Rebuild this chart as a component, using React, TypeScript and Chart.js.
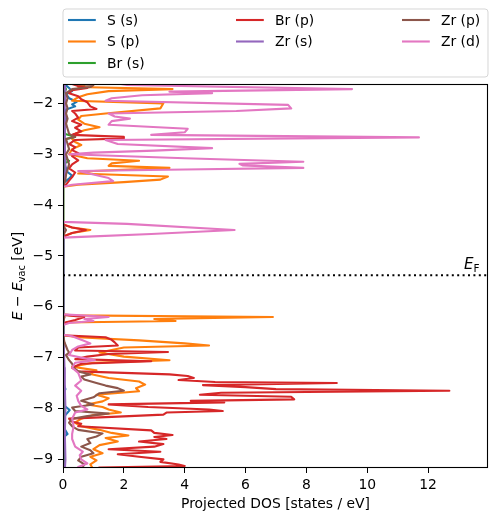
import { useEffect, useRef } from 'react';
import { Chart, registerables } from 'chart.js';

Chart.register(...registerables);

const FONT = '"DejaVu Sans", "Liberation Sans", sans-serif';
const FS = 13.9;

const seriesLabels = ['S (s)', 'S (p)', 'Br (s)', 'Br (p)', 'Zr (s)', 'Zr (p)', 'Zr (d)'];
const seriesColors = ['#1f77b4', '#ff7f0e', '#2ca02c', '#d62728', '#9467bd', '#8c564b', '#e377c2'];

const xMin = 0;
const xMax = 13.97;
const yMin = -9.17;
const yMax = -1.62;
const fermiLevel = -5.38;

// [energy (eV), projected DOS (states/eV)]
const sS: [number, number][] = [
  [-1.55, 0.05], [-1.62, 0.05], [-1.7, 0.2], [-1.76, 0.3], [-1.82, 0.1], [-1.9, 0.2], [-1.97, 0.45], [-2.02, 0.3],
  [-2.06, 0.4], [-2.12, 0.1], [-2.2, 0.05], [-2.3, 0.1], [-2.5, 0.05], [-2.7, 0.05], [-3.0, 0.05], [-3.2, 0.05],
  [-3.35, 0.15], [-3.42, 0.3], [-3.48, 0.2], [-3.55, 0.05], [-3.64, 0], [-4.36, 0], [-4.49, 0.05], [-4.62, 0],
  [-6.15, 0], [-6.56, 0.02], [-7.0, 0.02], [-7.5, 0.03], [-7.62, 0.08], [-7.7, 0.02], [-7.95, 0.05], [-8.03, 0.22],
  [-8.08, 0.15], [-8.15, 0.05], [-8.4, 0.05], [-8.5, 0.15], [-8.55, 0.05], [-9.2, 0.02],
];

const sP: [number, number][] = [
  [-1.55, 0.4], [-1.62, 0.5], [-1.65, 0.7], [-1.68, 0.5], [-1.72, 3.6], [-1.76, 1.5], [-1.82, 0.8], [-1.88, 0.5],
  [-1.95, 0.3], [-2.0, 3.3], [-2.1, 3.2], [-2.2, 1.4], [-2.25, 0.6], [-2.32, 0.5], [-2.4, 0.7], [-2.47, 1.2],
  [-2.53, 0.7], [-2.6, 0.4], [-2.7, 0.3], [-2.76, 0.4], [-2.82, 0.6], [-2.9, 0.3], [-3.0, 0.2], [-3.08, 0.8],
  [-3.13, 2.5], [-3.18, 1.6], [-3.23, 1.5], [-3.27, 3.5], [-3.33, 1.0], [-3.38, 0.5], [-3.44, 3.45], [-3.5, 3.2],
  [-3.55, 2.0], [-3.6, 0.5], [-3.64, 0],
  [-4.38, 0], [-4.44, 0.3], [-4.49, 0.9], [-4.55, 0.3], [-4.62, 0],
  [-6.15, 0], [-6.17, 0.3], [-6.2, 6.9], [-6.24, 3.0], [-6.28, 3.7], [-6.31, 0.1], [-6.35, 0], [-6.56, 0],
  [-6.6, 0.5], [-6.66, 2.5], [-6.72, 4.0], [-6.76, 4.8], [-6.8, 2.0], [-6.9, 1.2], [-6.98, 2.0], [-7.05, 3.5],
  [-7.1, 1.0], [-7.18, 0.3], [-7.25, 1.1], [-7.32, 0.9], [-7.4, 1.5], [-7.47, 2.5], [-7.53, 2.7], [-7.6, 2.4],
  [-7.66, 2.5], [-7.73, 1.1], [-7.8, 1.5], [-7.86, 1.3], [-7.92, 0.8], [-7.97, 1.3], [-8.02, 1.5], [-8.08, 1.9],
  [-8.13, 1.0], [-8.2, 0.6], [-8.28, 0.4], [-8.35, 0.6], [-8.42, 1.2], [-8.48, 1.6], [-8.53, 2.15], [-8.58, 1.4],
  [-8.65, 1.8], [-8.72, 1.2], [-8.8, 1.0], [-8.88, 1.3], [-8.95, 0.9], [-9.02, 1.1], [-9.1, 0.9], [-9.2, 1.0],
];

const brS: [number, number][] = [
  [-1.55, 0], [-1.62, 0.02], [-1.72, 0.1], [-1.8, 0.02], [-2.6, 0.05], [-2.66, 0.4], [-2.7, 0.1], [-2.8, 0.02],
  [-3.08, 0.05], [-3.13, 0.2], [-3.18, 0.05], [-3.64, 0], [-4.4, 0], [-4.49, 0.03], [-4.6, 0], [-6.15, 0],
  [-6.6, 0.02], [-7.5, 0.02], [-8.1, 0.04], [-9.2, 0.02],
];

const brP: [number, number][] = [
  [-1.55, 0.3], [-1.62, 0.3], [-1.66, 0.5], [-1.7, 0.8], [-1.74, 0.3], [-1.8, 0.2], [-1.86, 0.5], [-1.92, 0.6],
  [-1.98, 0.8], [-2.06, 0.9], [-2.11, 1.1], [-2.15, 0.3], [-2.2, 0.4], [-2.28, 0.5], [-2.35, 0.3], [-2.42, 0.6],
  [-2.48, 0.4], [-2.55, 0.6], [-2.62, 0.3], [-2.66, 2.0], [-2.69, 2.0], [-2.72, 0.4], [-2.8, 0.2], [-2.86, 0.4],
  [-2.92, 0.3], [-2.98, 0.5], [-3.04, 0.3], [-3.12, 0.5], [-3.2, 0.3], [-3.28, 0.2], [-3.36, 0.4], [-3.45, 0.3],
  [-3.52, 0.2], [-3.6, 0.1], [-3.64, 0],
  [-4.38, 0], [-4.44, 0.3], [-4.49, 0.75], [-4.55, 0.3], [-4.62, 0],
  [-6.16, 0], [-6.2, 0.7], [-6.26, 0.4], [-6.32, 0], [-6.56, 0], [-6.6, 1.4], [-6.65, 1.6], [-6.7, 1.7],
  [-6.76, 1.8], [-6.8, 0.5], [-6.86, 0.4], [-6.89, 3.45], [-6.93, 1.5], [-6.98, 0.8], [-7.03, 0.4], [-7.07, 2.9],
  [-7.12, 0.6], [-7.2, 0.3], [-7.27, 0.5], [-7.33, 3.5], [-7.36, 4.1], [-7.4, 4.3], [-7.44, 3.8], [-7.48, 5.0],
  [-7.5, 9.0], [-7.54, 4.6], [-7.58, 6.0], [-7.62, 7.0], [-7.65, 12.7], [-7.69, 5.2], [-7.73, 4.5], [-7.77, 7.5],
  [-7.82, 7.6], [-7.85, 4.2], [-7.88, 5.3], [-7.92, 1.5], [-7.97, 2.8], [-8.02, 4.8], [-8.05, 5.25], [-8.08, 3.4],
  [-8.12, 3.3], [-8.16, 1.8], [-8.2, 0.2], [-8.26, 0.3], [-8.3, 0.6], [-8.35, 0.5], [-8.43, 2.9], [-8.48, 3.0],
  [-8.52, 3.6], [-8.56, 3.0], [-8.6, 3.4], [-8.65, 2.5], [-8.7, 3.3], [-8.75, 3.0], [-8.8, 1.5], [-8.85, 3.2],
  [-8.9, 1.8], [-8.95, 2.5], [-9.0, 3.3], [-9.05, 3.2], [-9.1, 3.8], [-9.13, 4.0], [-9.16, 1.2], [-9.2, 1.0],
];

const zrS: [number, number][] = [
  [-1.55, 0.05], [-1.8, 0.08], [-2.2, 0.05], [-2.8, 0.06], [-3.3, 0.08], [-3.64, 0], [-4.4, 0], [-4.49, 0.05],
  [-4.6, 0], [-6.15, 0], [-6.6, 0.03], [-7.2, 0.05], [-7.6, 0.06], [-8.0, 0.08], [-8.5, 0.06], [-9.0, 0.08],
  [-9.2, 0.06],
];

const zrP: [number, number][] = [
  [-1.55, 0.3], [-1.62, 0.3], [-1.64, 1.0], [-1.68, 0.9], [-1.72, 0.3], [-1.8, 0.1], [-1.9, 0.15], [-2.0, 0.1],
  [-2.1, 0.15], [-2.2, 0.1], [-2.3, 0.15], [-2.4, 0.1], [-2.5, 0.15], [-2.6, 0.2], [-2.66, 0.4], [-2.7, 0.1],
  [-2.8, 0.15], [-2.9, 0.2], [-3.0, 0.1], [-3.1, 0.15], [-3.2, 0.2], [-3.3, 0.15], [-3.4, 0.1], [-3.5, 0.08],
  [-3.64, 0],
  [-4.4, 0], [-4.49, 0.1], [-4.6, 0],
  [-6.15, 0], [-6.2, 0.05], [-6.3, 0], [-6.56, 0], [-6.7, 0.05], [-6.85, 0.15], [-6.9, 0.2], [-6.95, 0.1],
  [-7.05, 0.2], [-7.12, 0.3], [-7.2, 0.35], [-7.27, 0.5], [-7.33, 0.9], [-7.37, 0.6], [-7.43, 0.7], [-7.5, 1.1],
  [-7.55, 1.4], [-7.6, 1.8], [-7.65, 2.0], [-7.7, 1.2], [-7.78, 1.0], [-7.85, 0.6], [-7.92, 1.0], [-7.98, 0.3],
  [-8.05, 0.4], [-8.1, 1.5], [-8.15, 0.8], [-8.2, 0.3], [-8.28, 0.2], [-8.35, 0.3], [-8.42, 0.5], [-8.49, 1.3],
  [-8.55, 1.1], [-8.6, 0.8], [-8.68, 0.9], [-8.75, 0.6], [-8.82, 0.9], [-8.88, 1.0], [-8.95, 0.6], [-9.02, 0.5],
  [-9.1, 0.7], [-9.2, 0.6],
];

const zrD: [number, number][] = [
  [-1.55, 1.8], [-1.62, 1.9], [-1.64, 2.1], [-1.72, 9.5], [-1.77, 3.5], [-1.8, 4.9], [-1.84, 2.6], [-1.9, 1.6],
  [-1.95, 1.4], [-2.03, 7.4], [-2.1, 7.5], [-2.15, 5.7], [-2.2, 1.5], [-2.26, 1.7], [-2.3, 2.2], [-2.35, 1.6],
  [-2.42, 1.5], [-2.5, 4.1], [-2.57, 4.0], [-2.62, 2.9], [-2.67, 11.7], [-2.72, 1.4], [-2.8, 1.8], [-2.88, 4.9],
  [-2.93, 3.0], [-2.97, 1.0], [-3.0, 0.2], [-3.08, 4.0], [-3.15, 7.9], [-3.19, 5.8], [-3.22, 5.9], [-3.27, 7.9],
  [-3.3, 4.0], [-3.33, 0.5], [-3.4, 1.0], [-3.47, 1.5], [-3.53, 1.65], [-3.6, 0.3], [-3.64, 0],
  [-4.33, 0], [-4.37, 2.1], [-4.49, 5.64], [-4.57, 2.9], [-4.62, 0.8], [-4.64, 0],
  [-6.15, 0], [-6.18, 1.0], [-6.2, 1.5], [-6.24, 0.7], [-6.28, 1.0], [-6.32, 0.2], [-6.36, 0], [-6.55, 0],
  [-6.58, 0.3], [-6.65, 0.6], [-6.72, 0.9], [-6.78, 0.5], [-6.85, 0.3], [-6.95, 0.2], [-7.0, 0.6], [-7.05, 1.05],
  [-7.1, 0.4], [-7.2, 0.3], [-7.3, 0.5], [-7.45, 0.6], [-7.55, 0.4], [-7.65, 0.6], [-7.75, 0.45], [-7.85, 0.5],
  [-7.95, 0.6], [-8.02, 0.8], [-8.08, 0.4], [-8.2, 0.3], [-8.35, 0.35], [-8.5, 0.3], [-8.6, 0.3], [-8.75, 0.4],
  [-8.85, 0.65], [-8.92, 0.55], [-9.0, 0.6], [-9.08, 0.8], [-9.15, 0.5], [-9.2, 0.6],
];

const allSeries = [sS, sP, brS, brP, zrS, zrP, zrD];

// legend layout: matplotlib fills columns first (3 columns)
const legendColumns = [[0, 1, 2], [3, 4], [5, 6]];

function drawParts(
  ctx: CanvasRenderingContext2D,
  parts: { t: string; f: string; dy?: number }[],
  x: number,
  y: number,
  center: boolean,
) {
  let total = 0;
  for (const p of parts) {
    ctx.font = p.f;
    total += ctx.measureText(p.t).width;
  }
  let cx = center ? x - total / 2 : x;
  for (const p of parts) {
    ctx.font = p.f;
    ctx.fillText(p.t, cx, y + (p.dy || 0));
    cx += ctx.measureText(p.t).width;
  }
}

const decorPlugin = {
  id: 'decor',
  afterDatasetsDraw(chart: any) {
    const { ctx, chartArea: a } = chart;
    ctx.save();
    ctx.strokeStyle = '#000';
    ctx.lineWidth = 1.1;
    ctx.strokeRect(a.left + 0.5, a.top + 0.5, a.right - a.left - 1, a.bottom - a.top - 1);
    ctx.restore();
  },
  afterDraw(chart: any) {
    const { ctx, chartArea: a, scales } = chart;
    ctx.save();
    ctx.fillStyle = '#000';
    ctx.textBaseline = 'alphabetic';
    ctx.textAlign = 'left';

    // E_F label
    const yF = scales.y.getPixelForValue(fermiLevel);
    drawParts(
      ctx,
      [
        { t: 'E', f: `italic 15px ${FONT}` },
        { t: 'F', f: `10.5px ${FONT}`, dy: 2.5 },
      ],
      a.right - 24,
      yF - 6,
      false,
    );

    // y axis label (rotated)
    ctx.save();
    ctx.translate(22, (a.top + a.bottom) / 2);
    ctx.rotate(-Math.PI / 2);
    drawParts(
      ctx,
      [
        { t: 'E', f: `italic ${FS}px ${FONT}` },
        { t: ' \u2212 ', f: `${FS}px ${FONT}` },
        { t: 'E', f: `italic ${FS}px ${FONT}` },
        { t: 'vac', f: `${FS * 0.7}px ${FONT}`, dy: 3 },
        { t: ' [eV]', f: `${FS}px ${FONT}` },
      ],
      0,
      0,
      true,
    );
    ctx.restore();

    // legend frame
    const lx = 63, ly = 9, lw = 425, lh = 68, r = 3;
    ctx.beginPath();
    ctx.moveTo(lx + r, ly);
    ctx.lineTo(lx + lw - r, ly);
    ctx.quadraticCurveTo(lx + lw, ly, lx + lw, ly + r);
    ctx.lineTo(lx + lw, ly + lh - r);
    ctx.quadraticCurveTo(lx + lw, ly + lh, lx + lw - r, ly + lh);
    ctx.lineTo(lx + r, ly + lh);
    ctx.quadraticCurveTo(lx, ly + lh, lx, ly + lh - r);
    ctx.lineTo(lx, ly + r);
    ctx.quadraticCurveTo(lx, ly, lx + r, ly);
    ctx.closePath();
    ctx.fillStyle = 'rgba(255,255,255,0.8)';
    ctx.fill();
    ctx.strokeStyle = 'rgba(204,204,204,0.8)';
    ctx.lineWidth = 1;
    ctx.stroke();

    const colX = [68, 236, 402];
    const rowY = [19.5, 41, 62.5];
    ctx.font = `${FS}px ${FONT}`;
    legendColumns.forEach((col, c) => {
      col.forEach((idx, r2) => {
        const y = rowY[r2];
        ctx.strokeStyle = seriesColors[idx];
        ctx.lineWidth = 2.1;
        ctx.beginPath();
        ctx.moveTo(colX[c], y + 0.5);
        ctx.lineTo(colX[c] + 27.8, y + 0.5);
        ctx.stroke();
        ctx.fillStyle = '#000';
        ctx.fillText(seriesLabels[idx], colX[c] + 38.9, y + 5);
      });
    });
    ctx.restore();
  },
};

export default function App() {
  const ref = useRef<HTMLCanvasElement>(null);

  useEffect(() => {
    document.body.style.margin = '0';
    const canvas = ref.current;
    if (!canvas) return;

    const datasets: any[] = allSeries.map((pts, i) => ({
      label: seriesLabels[i],
      data: pts.map(([e, d]) => ({ x: d, y: e })),
      borderColor: seriesColors[i],
      backgroundColor: seriesColors[i],
      borderWidth: 2.1,
      borderJoinStyle: 'round',
      borderCapStyle: 'round',
      pointRadius: 0,
      pointHoverRadius: 0,
      showLine: true,
      fill: false,
      tension: 0,
      clip: 0,
      order: seriesLabels.length - i,
    }));
    datasets.push({
      label: 'E_F',
      data: [
        { x: xMin, y: fermiLevel },
        { x: xMax, y: fermiLevel },
      ],
      borderColor: '#000',
      borderWidth: 2,
      borderDash: [2, 3.4],
      borderCapStyle: 'butt',
      pointRadius: 0,
      showLine: true,
      fill: false,
      clip: 0,
      order: -1,
    });

    const tickFont = { family: FONT, size: FS };

    const chart = new Chart(canvas, {
      type: 'scatter',
      data: { datasets },
      options: {
        animation: false,
        responsive: false,
        devicePixelRatio: 1,
        events: [],
        layout: { padding: { left: 0, right: 10, top: 84, bottom: 0 } },
        plugins: { legend: { display: false }, tooltip: { enabled: false } },
        scales: {
          x: {
            type: 'linear',
            position: 'bottom',
            min: xMin,
            max: xMax,
            ticks: {
              stepSize: 2,
              includeBounds: false,
              color: '#000',
              font: tickFont,
              padding: 4,
              maxRotation: 0,
              autoSkip: false,
            },
            grid: {
              display: true,
              drawOnChartArea: false,
              drawTicks: true,
              tickLength: 5,
              tickColor: '#000',
              tickWidth: 1,
            },
            border: { display: false },
            title: {
              display: true,
              text: 'Projected DOS [states / eV]',
              color: '#000',
              font: tickFont,
              padding: { top: 0, bottom: 9 },
            },
            afterFit: (s: any) => {
              s.height = 54;
            },
          },
          y: {
            type: 'linear',
            position: 'left',
            min: yMin,
            max: yMax,
            ticks: {
              stepSize: 1,
              includeBounds: false,
              color: '#000',
              font: tickFont,
              padding: 5,
              autoSkip: false,
              callback: (v: any) => String(v).replace('-', '\u2212'),
            },
            grid: {
              display: true,
              drawOnChartArea: false,
              drawTicks: true,
              tickLength: 5,
              tickColor: '#000',
              tickWidth: 1,
            },
            border: { display: false },
            title: { display: false },
            afterFit: (s: any) => {
              s.width = 63;
            },
          },
        },
      } as any,
      plugins: [decorPlugin],
    });

    return () => chart.destroy();
  }, []);

  return (
    <div style={{ position: 'absolute', left: 0, top: 0, width: 498, height: 522, background: '#fff' }}>
      <canvas ref={ref} width={498} height={522} style={{ display: 'block', width: 498, height: 522 }} />
    </div>
  );
}
